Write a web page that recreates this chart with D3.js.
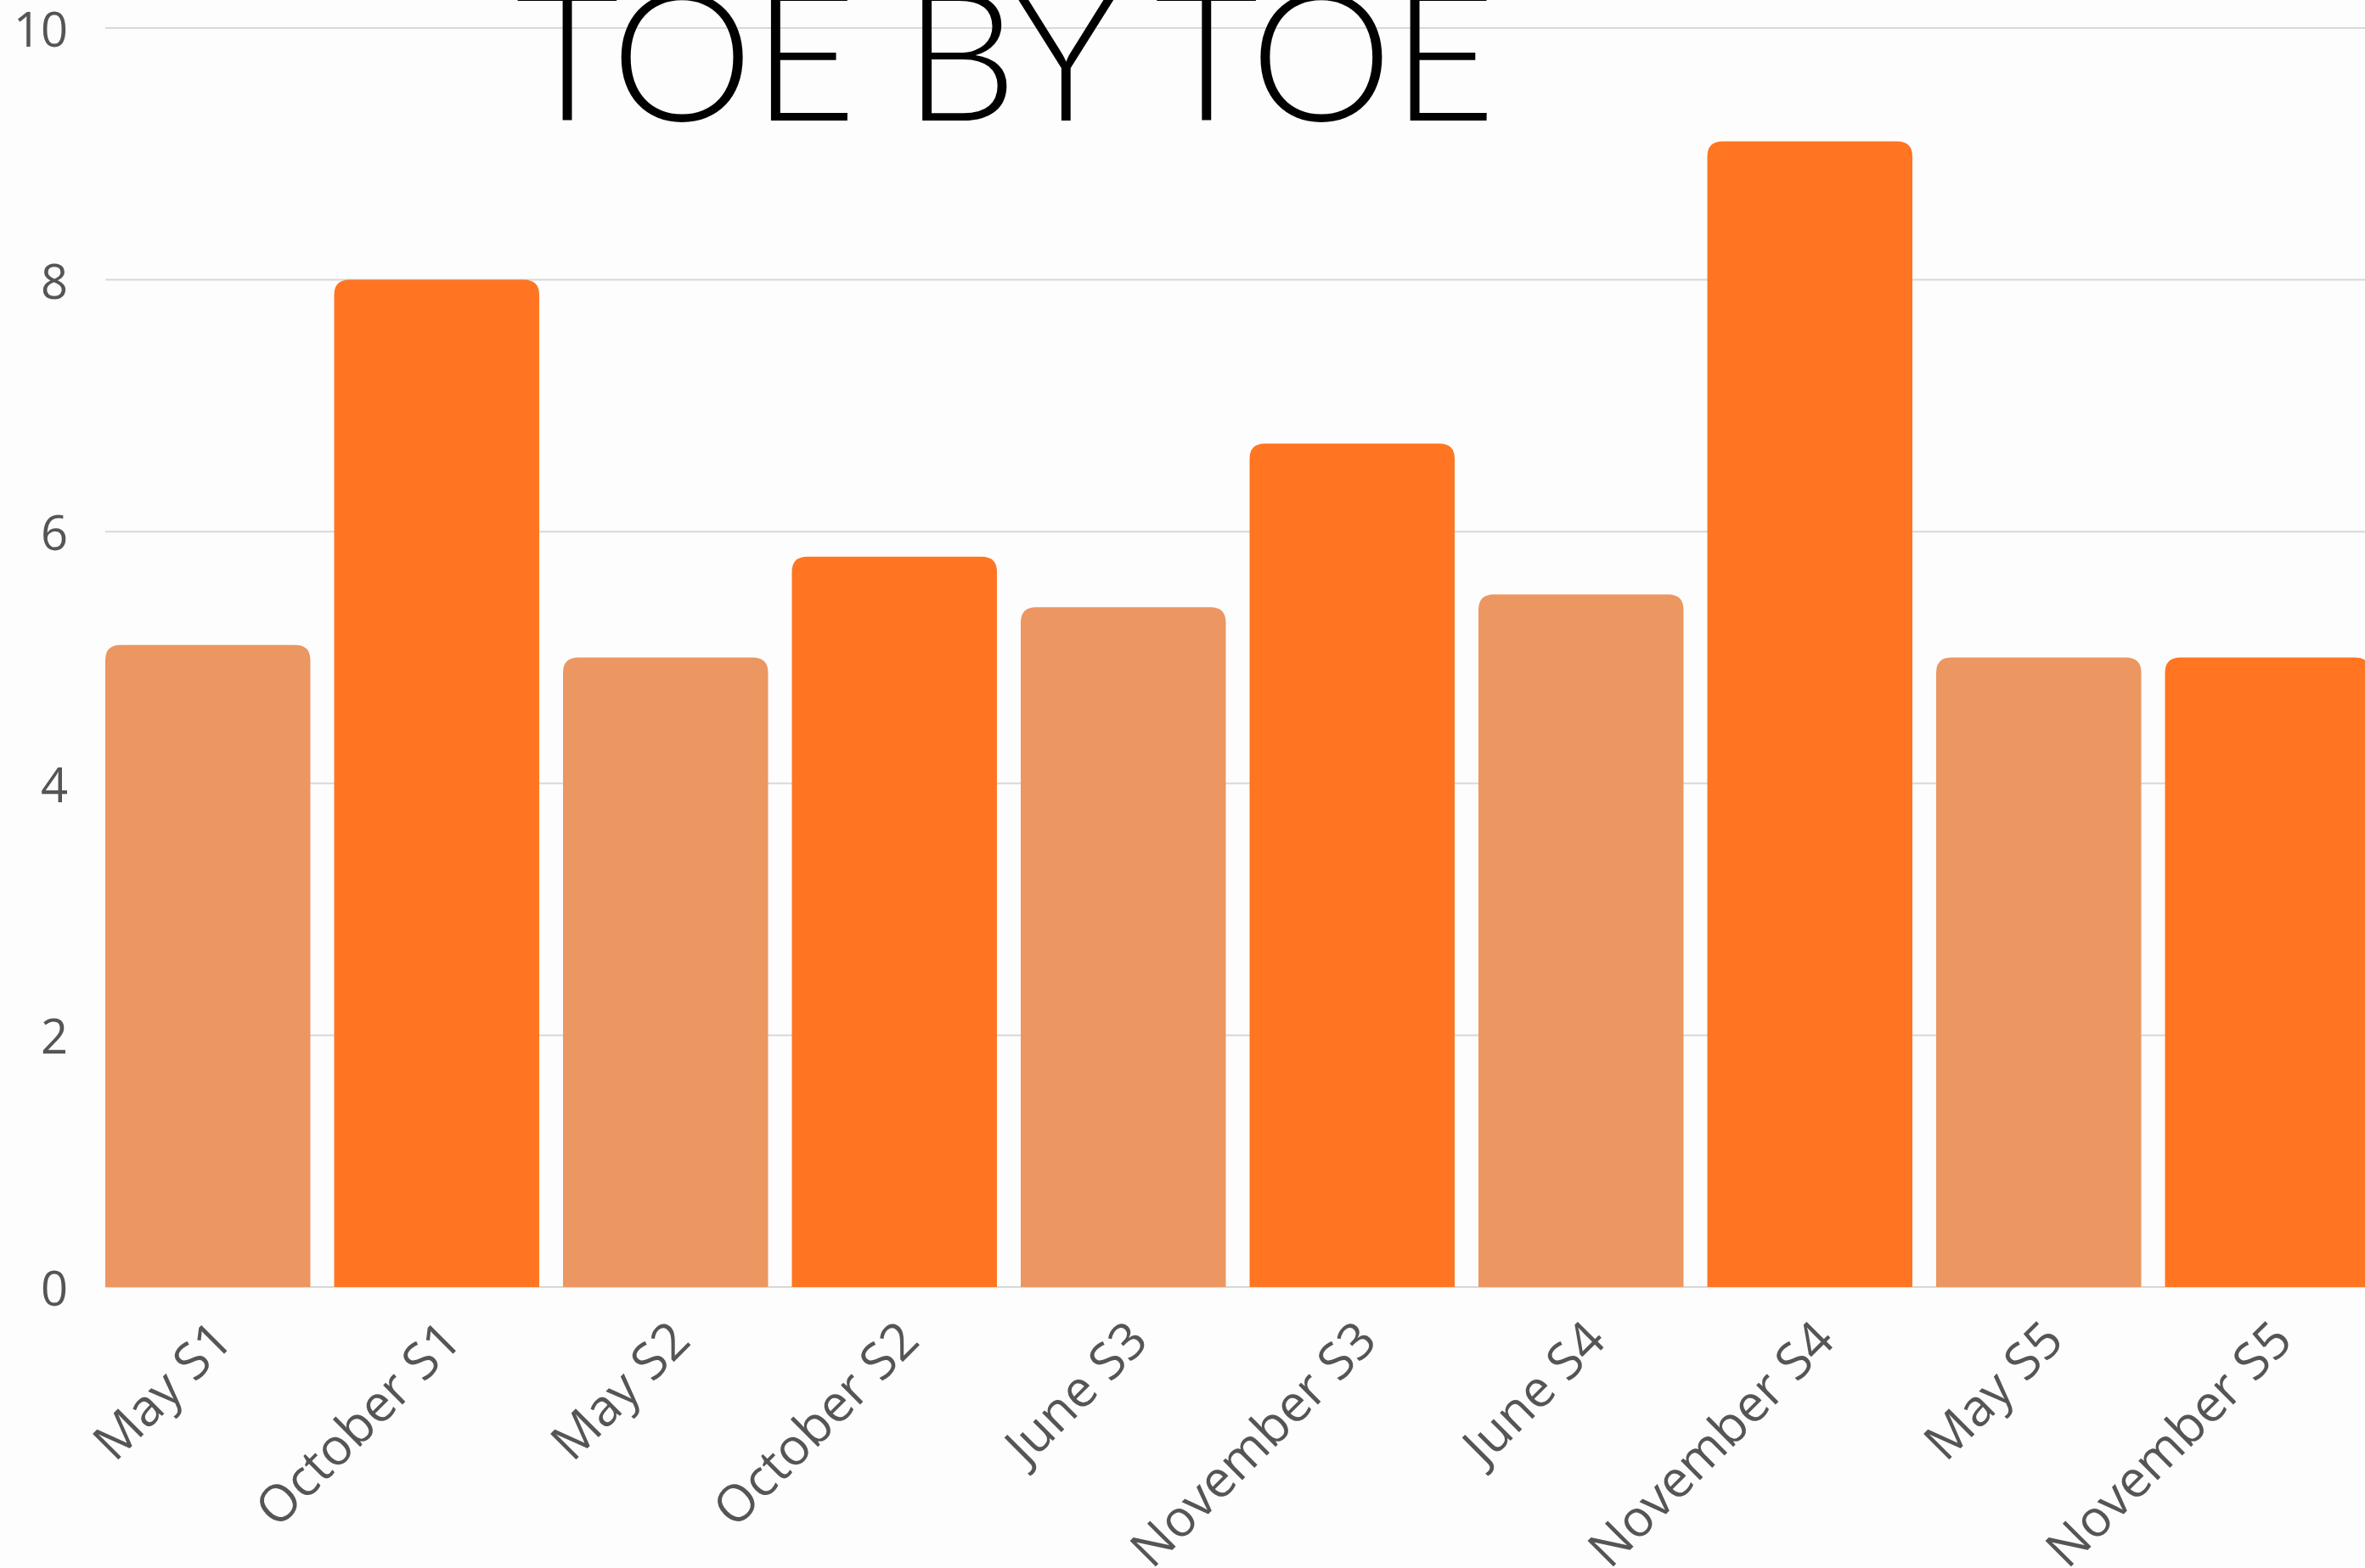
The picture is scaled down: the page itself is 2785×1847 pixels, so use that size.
<!DOCTYPE html>
<html>
<head>
<meta charset="utf-8">
<script src="https://cdn.jsdelivr.net/npm/d3@7"></script>
<style>
    html, body { margin: 0; padding: 0; background: #fdfdfd; overflow: hidden; }
</style>
</head>
<body>
<svg id="chart" width="2785" height="1847"></svg>
<script>
const categories = ["May S1", "October S1", "May S2", "October S2", "June S3", "November S3", "June S4", "November S4", "May S5", "November S5"];
const values = [5.1, 8.0, 5.0, 5.8, 5.4, 6.7, 5.5, 9.1, 5.0, 5.0];
const tone = ["light", "dark", "light", "dark", "light", "dark", "light", "dark", "light", "dark"];
const yTicks = [0, 2, 4, 6, 8, 10];
const title = "TOE BY TOE";

window.addEventListener("load", main);

function main()
{
    const svg = d3.select("svg#chart").style("background", "#fdfdfd");
    const left = 124, right = 2791, top = 33, bottom = 1516;

    const x = d3.scaleBand().domain(categories).range([left, right]).paddingInner(0.104).paddingOuter(0);
    const y = d3.scaleLinear().domain([0, 10]).range([bottom, top]);
    const color = d3.scaleOrdinal().domain(["light", "dark"]).range(["#ec9661", "#ff7521"]);

    // 网格线
    svg.append("g").selectAll("line").data(yTicks).join("line")
        .attr("x1", left).attr("x2", 2785)
        .attr("y1", d=>y(d)).attr("y2", d=>y(d))
        .attr("stroke", "#d8d8d8").attr("stroke-width", 2);

    // y 轴刻度
    svg.append("g").selectAll("text").data(yTicks).join("text")
        .text(d=>d)
        .attr("x", 80).attr("y", d=>y(d))
        .attr("text-anchor", "end")
        .attr("dominant-baseline", "central")
        .attr("font-family", "Open Sans")
        .attr("font-size", 56)
        .attr("fill", "#555555");

    // 柱子, 顶部圆角
    const r = 18;
    svg.append("g").selectAll("path").data(categories).join("path")
        .attr("d", (d, i)=>{
            const x0 = x(d), x1 = x(d) + x.bandwidth(), y0 = y(values[i]), y1 = y(0);
            return `M${x0},${y1}V${y0 + r}Q${x0},${y0} ${x0 + r},${y0}H${x1 - r}Q${x1},${y0} ${x1},${y0 + r}V${y1}Z`;
        })
        .attr("fill", (d, i)=>color(tone[i]));

    // x 轴标签
    svg.append("g").selectAll("text").data(categories).join("text")
        .text(d=>d)
        .attr("text-anchor", "end")
        .attr("font-family", "Open Sans")
        .attr("font-size", 60)
        .attr("fill", "#555555")
        .attr("transform", d=>`translate(${x(d) + x.bandwidth() / 2 + 32},${bottom + 66}) rotate(-45)`);

    // 标题
    svg.append("text")
        .text(title)
        .attr("x", 1184).attr("y", 142)
        .attr("text-anchor", "middle")
        .attr("font-family", "Lato")
        .attr("font-weight", 300)
        .attr("font-size", 212)
        .attr("textLength", 1155)
        .attr("fill", "#000000");
}
</script>
</body>
</html>
